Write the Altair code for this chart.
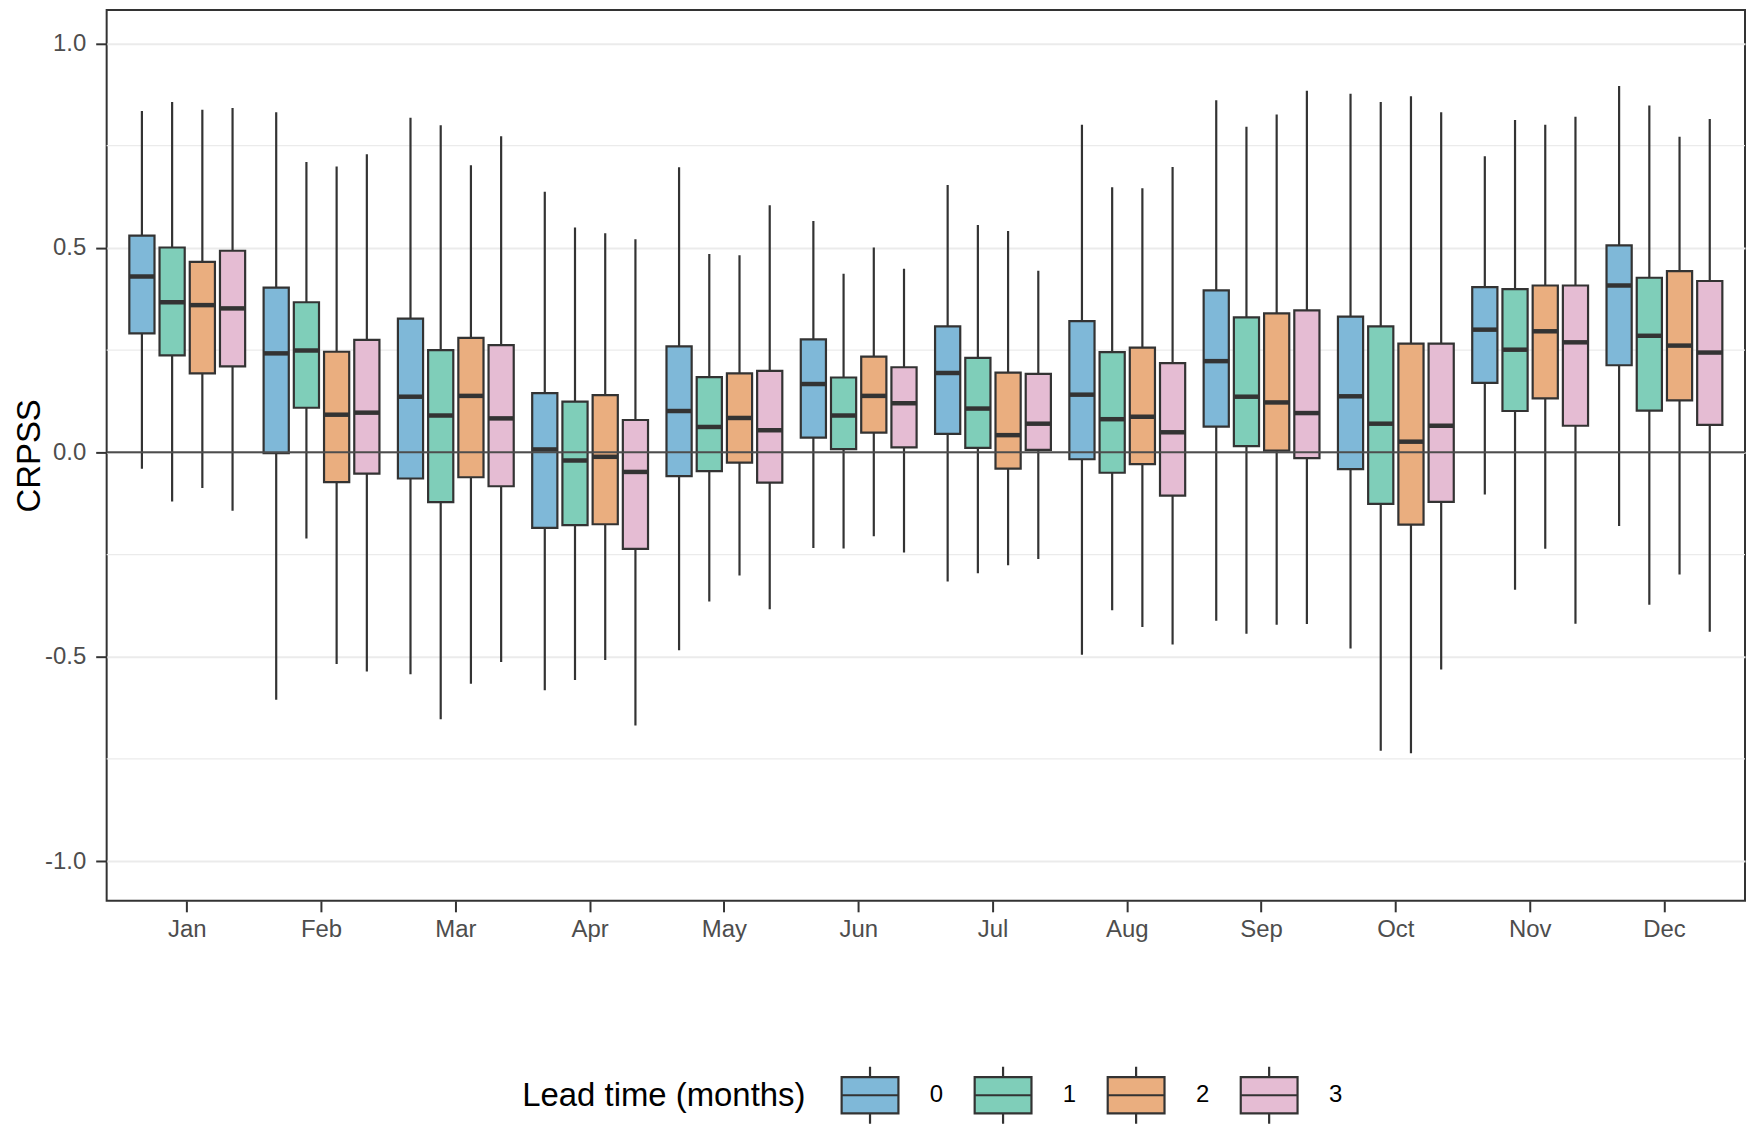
import altair as alt
import pandas as pd

months = ["Jan", "Feb", "Mar", "Apr", "May", "Jun", "Jul", "Aug", "Sep", "Oct", "Nov", "Dec"]
leads = ["0", "1", "2", "3"]

# Lead time 0
l0_low = [-0.040, -0.605, -0.543, -0.582, -0.484, -0.234, -0.316, -0.495, -0.412, -0.480, -0.103, -0.180]
l0_q1 = [0.291, -0.002, -0.064, -0.185, -0.058, 0.036, 0.045, -0.017, 0.063, -0.041, 0.170, 0.213]
l0_med = [0.430, 0.242, 0.136, 0.007, 0.101, 0.167, 0.194, 0.141, 0.223, 0.137, 0.300, 0.408]
l0_q3 = [0.530, 0.403, 0.327, 0.145, 0.259, 0.276, 0.308, 0.321, 0.396, 0.332, 0.404, 0.506]
l0_high = [0.835, 0.832, 0.818, 0.637, 0.697, 0.566, 0.654, 0.801, 0.861, 0.877, 0.724, 0.896]

# Lead time 1
l1_low = [-0.120, -0.211, -0.653, -0.557, -0.365, -0.235, -0.296, -0.386, -0.444, -0.730, -0.336, -0.373]
l1_q1 = [0.237, 0.109, -0.122, -0.178, -0.046, 0.008, 0.011, -0.050, 0.015, -0.126, 0.101, 0.102]
l1_med = [0.367, 0.249, 0.090, -0.020, 0.062, 0.090, 0.107, 0.081, 0.136, 0.070, 0.251, 0.285]
l1_q3 = [0.501, 0.367, 0.250, 0.124, 0.184, 0.183, 0.231, 0.245, 0.330, 0.308, 0.399, 0.427]
l1_high = [0.857, 0.710, 0.800, 0.550, 0.485, 0.437, 0.556, 0.648, 0.796, 0.857, 0.813, 0.848]

# Lead time 2
l2_low = [-0.087, -0.518, -0.566, -0.508, -0.301, -0.205, -0.276, -0.427, -0.422, -0.736, -0.236, -0.299]
l2_q1 = [0.193, -0.073, -0.061, -0.176, -0.025, 0.048, -0.040, -0.029, 0.004, -0.177, 0.132, 0.127]
l2_med = [0.360, 0.092, 0.138, -0.011, 0.084, 0.138, 0.042, 0.087, 0.122, 0.026, 0.296, 0.261]
l2_q3 = [0.466, 0.246, 0.280, 0.140, 0.193, 0.234, 0.195, 0.256, 0.340, 0.266, 0.408, 0.443]
l2_high = [0.838, 0.699, 0.702, 0.536, 0.482, 0.501, 0.541, 0.646, 0.826, 0.871, 0.801, 0.772]

# Lead time 3
l3_low = [-0.143, -0.536, -0.513, -0.668, -0.384, -0.245, -0.261, -0.470, -0.420, -0.531, -0.419, -0.439]
l3_q1 = [0.210, -0.052, -0.083, -0.236, -0.074, 0.012, 0.006, -0.106, -0.014, -0.121, 0.065, 0.067]
l3_med = [0.352, 0.097, 0.083, -0.048, 0.054, 0.120, 0.070, 0.049, 0.096, 0.065, 0.269, 0.244]
l3_q3 = [0.493, 0.275, 0.262, 0.079, 0.199, 0.208, 0.192, 0.218, 0.347, 0.266, 0.408, 0.419]
l3_high = [0.842, 0.729, 0.773, 0.521, 0.604, 0.449, 0.444, 0.698, 0.884, 0.832, 0.821, 0.815]

y_ticks = [-1.0, -0.5, 0.0, 0.5, 1.0]
y_minor = [-0.75, -0.25, 0.25, 0.75]
box_colors = ["#7FB8D8", "#7FCEB9", "#EAAE7F", "#E5BCD3"]

series = {
    "0": (l0_low, l0_q1, l0_med, l0_q3, l0_high),
    "1": (l1_low, l1_q1, l1_med, l1_q3, l1_high),
    "2": (l2_low, l2_q1, l2_med, l2_q3, l2_high),
    "3": (l3_low, l3_q1, l3_med, l3_q3, l3_high),
}
rows = []
for lead in leads:
    lo, q1, md, q3, hi = series[lead]
    for i, m in enumerate(months):
        rows.append({"month": m, "lead": lead, "low": lo[i], "q1": q1[i],
                     "med": md[i], "q3": q3[i], "high": hi[i]})
df = pd.DataFrame(rows)

FONT = "Liberation Sans"
ydom = [-1.097, 1.082]
yscale = alt.Scale(domain=ydom, nice=False, zero=False)

y_axis = alt.Axis(values=y_ticks, title="CRPSS", domain=False, grid=True,
                  gridColor="#EBEBEB", gridWidth=2,
                  labelExpr="datum.value < 0 ? '-' + format(abs(datum.value), '.1f') : format(datum.value, '.1f')",
                  labelColor="#4D4D4D", labelFontSize=24, labelFont=FONT,
                  tickColor="#333333", tickWidth=2, tickSize=11, labelPadding=10,
                  titleFontSize=33, titleFont=FONT, titleFontWeight="normal",
                  titleColor="#000000", titlePadding=-2)

x_enc = alt.X("month:N", sort=months,
              scale=alt.Scale(paddingInner=0.1, paddingOuter=0.15),
              axis=alt.Axis(title=None, labelAngle=0, domain=False, grid=False,
                            labelColor="#4D4D4D", labelFontSize=24, labelFont=FONT,
                            tickColor="#333333", tickWidth=2, tickSize=11,
                            labelPadding=6, bandPosition=0.5))
xo_enc = alt.XOffset("lead:N", sort=leads,
                     scale=alt.Scale(paddingInner=1/6, paddingOuter=1/12))

base = alt.Chart(df).encode(x=x_enc, xOffset=xo_enc)

minor = alt.Chart(pd.DataFrame({"y": y_minor})).mark_rule(
    color="#EBEBEB", strokeWidth=1.2
).encode(y=alt.Y("y:Q", scale=yscale, axis=y_axis))

whisker = base.mark_rule(color="#333333", strokeWidth=2.2).encode(
    y=alt.Y("low:Q", scale=yscale, axis=y_axis),
    y2="high:Q",
)

box = base.mark_bar(stroke="#333333", strokeWidth=2.2, opacity=1).encode(
    y=alt.Y("q1:Q", scale=yscale, axis=y_axis),
    y2="q3:Q",
    fill=alt.Fill("lead:N", sort=leads,
                  scale=alt.Scale(domain=leads, range=box_colors),
                  legend=alt.Legend(
                      title="Lead time (months)", orient="none", direction="horizontal",
                      legendX=417, legendY=1059, titleOrient="left",
                      titleFontSize=33, titleFont=FONT, titleFontWeight="normal",
                      titleColor="#000000", titlePadding=34, titleBaseline="middle",
                      titleLimit=1000,
                      labelFontSize=24, labelFont=FONT, labelColor="#000000",
                      labelOffset=30, columnPadding=26.5, padding=0,
                      symbolType="M-1,-0.64H1V0.64H-1Z M-1,0H1 M0,-0.64V-1 M0,0.64V1",
                      symbolSize=3249, symbolStrokeColor="#333333",
                      symbolStrokeWidth=2.2, symbolOpacity=1)),
)

median = base.mark_tick(color="#333333", thickness=4.5, size=25, opacity=1).encode(
    y=alt.Y("med:Q", scale=yscale, axis=y_axis)
)

zero = alt.Chart(pd.DataFrame({"y": [0.0]})).mark_rule(
    color="#4D4D4D", strokeWidth=2
).encode(y=alt.Y("y:Q", scale=yscale, axis=y_axis))

chart = alt.layer(minor, whisker, box, median, zero).properties(
    width=1644, height=894,
    autosize=alt.AutoSizeParams(type="none"),
    padding={"left": 99, "top": 0, "right": 2, "bottom": 222},
).configure(font=FONT).configure_view(
    stroke="#333333", strokeWidth=2
)

chart.save("out.html", embed_options={"renderer": "svg", "actions": False})
